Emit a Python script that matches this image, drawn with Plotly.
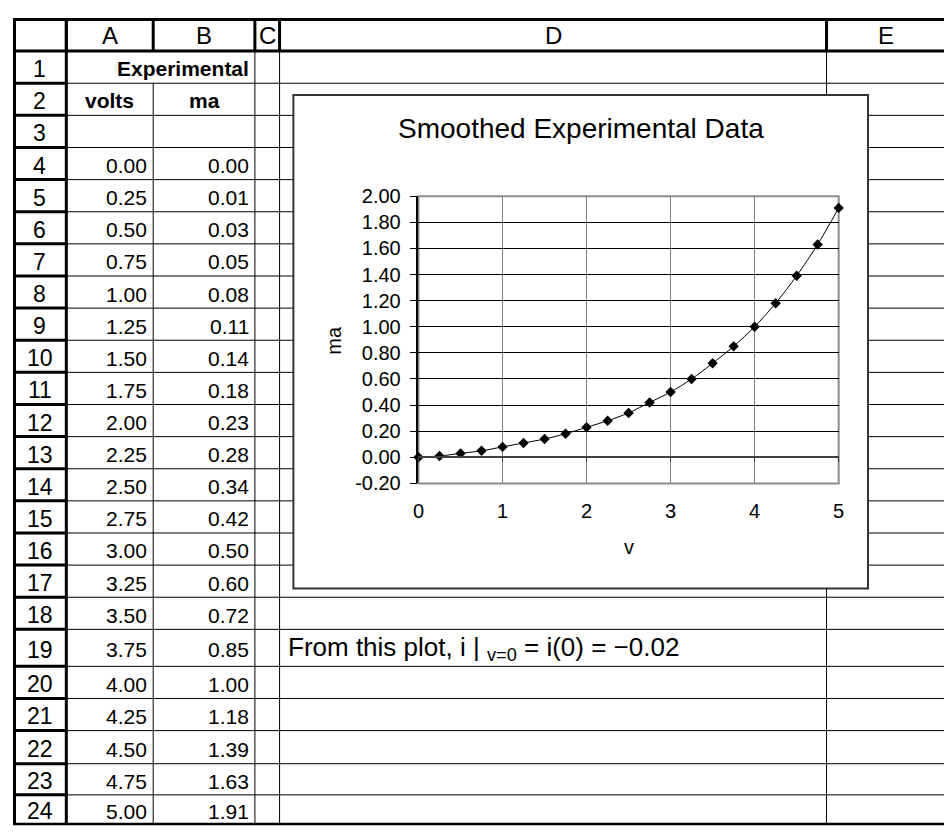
import plotly.graph_objects as go

# ---------------- data ----------------
volts = [0.00, 0.25, 0.50, 0.75, 1.00, 1.25, 1.50, 1.75, 2.00, 2.25, 2.50,
         2.75, 3.00, 3.25, 3.50, 3.75, 4.00, 4.25, 4.50, 4.75, 5.00]
ma = [0.00, 0.01, 0.03, 0.05, 0.08, 0.11, 0.14, 0.18, 0.23, 0.28, 0.34,
      0.42, 0.50, 0.60, 0.72, 0.85, 1.00, 1.18, 1.39, 1.63, 1.91]
column_letters = ["A", "B", "C", "D", "E"]
row_numbers = list(range(1, 25))
header_title = "Experimental"
header_cols = ["volts", "ma"]
y_tick_vals = [-0.2, 0.0, 0.2, 0.4, 0.6, 0.8, 1.0, 1.2, 1.4, 1.6, 1.8, 2.0]
y_tick_text = ["-0.20", "0.00", "0.20", "0.40", "0.60", "0.80", "1.00",
               "1.20", "1.40", "1.60", "1.80", "2.00"]
x_tick_vals = [0, 1, 2, 3, 4, 5]
x_tick_text = ["0", "1", "2", "3", "4", "5"]
chart_title = "Smoothed Experimental Data"
x_title = "v"
y_title = "ma"
note_text = "From this plot, i | <sub>v=0</sub> = i(0) = \u22120.02"

# ---------------- geometry (page pixels) ----------------
# The page body keeps its default 8px margin, so the figure is drawn 8px in
# from the top-left corner; page coordinates are converted accordingly.
OFF = 8
W, H = 952 - OFF, 837 - OFF
FONT = "Liberation Sans, Arial, sans-serif"
col_edges = [8.5, 61, 149, 252, 277, 831, 952]       # rn | A | B | C | D | E
row_edges = [8.5, 41] + [41 + 33 * k for k in range(1, 18)] + [635, 673, 706, 739, 773, 805, 835]
chart_box = (291, 86, 873, 593)
plot_box = (417.7, 190.0, 843.3, 485.1)


def px(x):
    return (x - OFF) / W


def py(y):
    return 1 - (y - OFF) / H


shapes = []


def hline(y, x0, x1, w=1, c="black"):
    shapes.append(dict(type="line", xref="paper", yref="paper", layer="below",
                       x0=px(x0), x1=px(x1), y0=py(y), y1=py(y),
                       line=dict(color=c, width=w)))


def vline(x, y0, y1, w=1, c="black"):
    shapes.append(dict(type="line", xref="paper", yref="paper", layer="below",
                       x0=px(x), x1=px(x), y0=py(y0), y1=py(y1),
                       line=dict(color=c, width=w)))


top, bottom = row_edges[0], row_edges[-1]
left, right = col_edges[0], col_edges[-1]
rn_right = col_edges[1]

# thin body grid
for y in row_edges[2:-1]:
    hline(y, rn_right, right, 1)
vline(col_edges[2], row_edges[2], bottom, 1)          # A|B (row 1 merged)
for x in col_edges[3:6]:
    vline(x, row_edges[1], bottom, 1)

# thick row-number separators
for y in row_edges[2:-1]:
    hline(y, left, rn_right, 3)
# header separators
for x in col_edges[1:6]:
    vline(x, top, row_edges[1], 3)
hline(row_edges[1], left, right, 3)
hline(top, left - 1.5, right, 3)
vline(left, top, bottom, 3)
vline(rn_right, top, bottom, 3)
hline(bottom, left - 1.5, right, 2.5)

# chart area box
shapes.append(dict(type="rect", xref="paper", yref="paper", layer="below",
                   x0=px(chart_box[0]), x1=px(chart_box[2]),
                   y0=py(chart_box[3]), y1=py(chart_box[1]),
                   fillcolor="white", line=dict(color="#333333", width=2)))
# plot area border
shapes.append(dict(type="rect", xref="paper", yref="paper", layer="below",
                   x0=px(plot_box[0]), x1=px(plot_box[2]),
                   y0=py(plot_box[3]), y1=py(plot_box[1]),
                   line=dict(color="#8c8c8c", width=2)))

annotations = []


def ann(text, x, y, size, xanchor="center", bold=False, **kw):
    t = f"<b>{text}</b>" if bold else text
    annotations.append(dict(text=t, x=px(x), y=py(y), xref="paper", yref="paper",
                            xanchor=xanchor, yanchor="middle", showarrow=False,
                            font=dict(family=FONT, size=size, color="black"), **kw))


# column letters
for i, letter in enumerate(column_letters):
    cx = (col_edges[i + 1] + col_edges[i + 2]) / 2
    ann(letter, cx, 25, 24)

# row numbers
for r in row_numbers:
    y0, y1 = row_edges[r], row_edges[r + 1]
    ann(str(r), 34, (y0 + y1) / 2 + 2, 23)

# header texts
ann(header_title, col_edges[3] - 4, (row_edges[1] + row_edges[2]) / 2 + 1, 21,
    xanchor="right", bold=True)
ann(header_cols[0], (col_edges[1] + col_edges[2]) / 2, (row_edges[2] + row_edges[3]) / 2 + 1, 21, bold=True)
ann(header_cols[1], (col_edges[2] + col_edges[3]) / 2, (row_edges[2] + row_edges[3]) / 2 + 1, 21, bold=True)

# data values in the table (rows 4..24)
for k, (v, m) in enumerate(zip(volts, ma)):
    r = 4 + k
    cy = (row_edges[r] + row_edges[r + 1]) / 2 + 2
    ann(f"{v:.2f}", col_edges[2] - 4, cy, 21, xanchor="right")
    ann(f"{m:.2f}", col_edges[3] - 4, cy, 21, xanchor="right")

# note in D19
ann(note_text, col_edges[4] + 6, (row_edges[19] + row_edges[20]) / 2 + 1, 26, xanchor="left")

# chart texts
ann(chart_title, (chart_box[0] + chart_box[2]) / 2, 120, 28)
ann(y_title, 332, (plot_box[1] + plot_box[3]) / 2, 20, textangle=-90)
ann(x_title, (plot_box[0] + plot_box[2]) / 2, 550, 20)

fig = go.Figure()
fig.add_trace(go.Scatter(
    x=volts, y=ma, mode="lines+markers",
    line=dict(color="black", width=1, shape="spline", smoothing=0.8),
    marker=dict(symbol="diamond", size=8, color="black"),
    cliponaxis=False, showlegend=False, hoverinfo="x+y"))

ydom = [py(plot_box[3]), py(plot_box[1])]
yr = [y_tick_vals[0], y_tick_vals[-1]]
zero_pos = ydom[0] + (ydom[1] - ydom[0]) * (0 - yr[0]) / (yr[1] - yr[0])

fig.update_layout(
    width=W, height=H, autosize=False,
    margin=dict(l=0, r=0, t=0, b=0),
    paper_bgcolor="white", plot_bgcolor="white",
    showlegend=False,
    shapes=shapes, annotations=annotations,
    xaxis=dict(domain=[px(plot_box[0]), px(plot_box[2])], range=[0, 5],
               anchor="free", position=zero_pos,
               tickvals=x_tick_vals, ticktext=x_tick_text,
               ticks="outside", ticklen=4, tickcolor="#404040", tickwidth=1,
               showline=True, linecolor="#404040", linewidth=1.5,
               showgrid=True, gridcolor="#808080", gridwidth=1,
               zeroline=False, ticklabelstandoff=32,
               tickfont=dict(family=FONT, size=20, color="black"), fixedrange=True),
    yaxis=dict(domain=ydom, range=yr,
               tickvals=y_tick_vals, ticktext=y_tick_text,
               ticks="outside", ticklen=7, tickcolor="black", tickwidth=1,
               showline=True, linecolor="black", linewidth=1.5,
               showgrid=True, gridcolor="black", gridwidth=1,
               zeroline=False, ticklabelstandoff=5,
               tickfont=dict(family=FONT, size=20, color="black"), fixedrange=True),
)

fig.write_html("out.html", config={"displayModeBar": False})
